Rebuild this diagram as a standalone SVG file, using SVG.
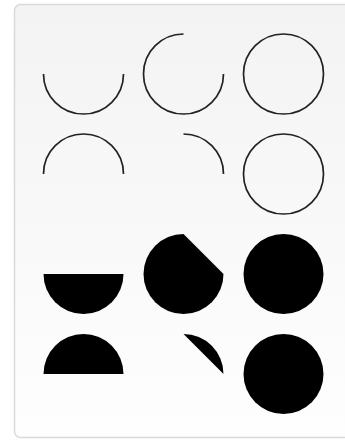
<svg xmlns="http://www.w3.org/2000/svg" width="345" height="442" viewBox="0 0 345 442">
  <defs>
    <linearGradient id="bg" x1="0" y1="0" x2="0" y2="1">
      <stop offset="0" stop-color="#f3f3f3"/>
      <stop offset="1" stop-color="#fefefe"/>
    </linearGradient>
    <style>
      .s { fill: none; stroke: #222; stroke-width: 1.7; }
      .f { fill: #000; stroke: none; }
    </style>
  </defs>
  <rect x="0" y="0" width="345" height="442" fill="#fff"/>
  <rect x="14.5" y="4.5" width="345" height="433" rx="6" fill="url(#bg)" stroke="#d9d9d9" stroke-width="1.5"/>
  <g id="row0">
    <path class="s" d="M 123.5 74 A 40 40 0 0 1 43.5 74"/>
    <path class="s" d="M 223.5 74 A 40 40 0 1 1 183.5 34"/>
    <circle class="s" cx="283.5" cy="74" r="40"/>
  </g>
  <g id="row1">
    <path class="s" d="M 123.5 174 A 40 40 0 0 0 43.5 174"/>
    <path class="s" d="M 223.5 174 A 40 40 0 0 0 183.5 134"/>
    <circle class="s" cx="283.5" cy="174" r="40"/>
  </g>
  <g id="row2">
    <path class="f" d="M 123.5 274 A 40 40 0 0 1 43.5 274 Z"/>
    <path class="f" d="M 223.5 274 A 40 40 0 1 1 183.5 234 Z"/>
    <circle class="f" cx="283.5" cy="274" r="40"/>
  </g>
  <g id="row3">
    <path class="f" d="M 123.5 374 A 40 40 0 0 0 43.5 374 Z"/>
    <path class="f" d="M 223.5 374 A 40 40 0 0 0 183.5 334 Z"/>
    <circle class="f" cx="283.5" cy="374" r="40"/>
  </g>
</svg>
